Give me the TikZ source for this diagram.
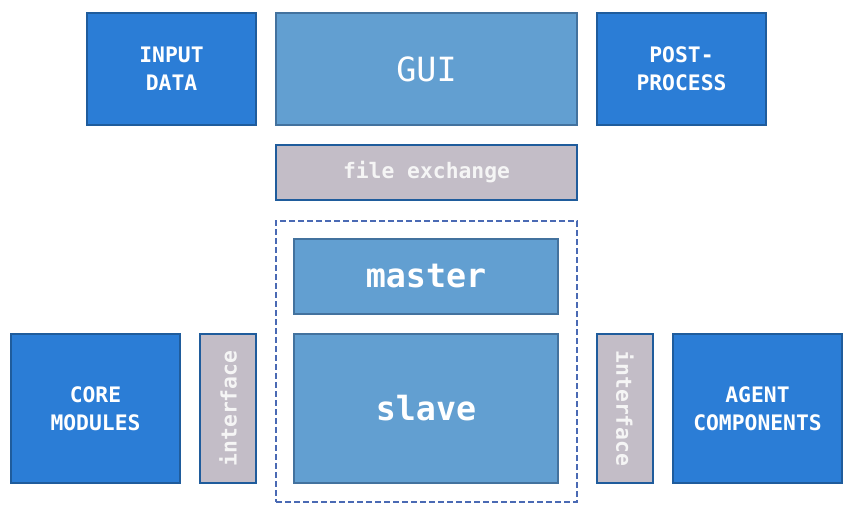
\documentclass[tikz,border=0pt]{standalone}
\usepackage{fontspec}
\setmonofont{DejaVu Sans Mono}
\definecolor{unitblue}{HTML}{2B7DD6}
\definecolor{unitedge}{HTML}{1F5C9C}
\definecolor{coreblue}{HTML}{629FD1}
\definecolor{coreedge}{HTML}{43729E}
\definecolor{linkgrey}{HTML}{C3BDC7}
\definecolor{frameblue}{HTML}{4A6AB4}
\tikzset{
  box/.style={draw, line width=1.8pt, inner sep=0pt, align=center, text=white},
  unit/.style={box, fill=unitblue, draw=unitedge, minimum width=126.75pt,
    font=\ttfamily\bfseries\fontsize{16}{21}\selectfont},
  core/.style={box, fill=coreblue, draw=coreedge,
    font=\ttfamily\bfseries\fontsize{25}{28}\selectfont},
  link/.style={box, fill=linkgrey, draw=unitedge, text=white!96!black,
    font=\ttfamily\bfseries\fontsize{16}{21}\selectfont}
}
\begin{document}
\begin{tikzpicture}[x=0.75pt,y=-0.75pt]
\useasboundingbox (0,0) rectangle (852,506);

% top row
\node[unit, minimum height=84pt] (input) at (171.5,69) {INPUT\\DATA};
\node[core, minimum width=225.75pt, minimum height=84pt, font=\ttfamily\fontsize{25}{28}\selectfont] (gui) at (426.5,69) {GUI};
\node[unit, minimum height=84pt] (post) at (681.5,69) {POST-\\PROCESS};

\node[link, minimum width=225.75pt, minimum height=41.25pt] (exchange) at (426.5,172.5) {file exchange};

% solver
\node[draw=frameblue, line width=2pt, dash pattern=on 4.5pt off 2.25pt,
  minimum width=225.75pt, minimum height=210.75pt] (solver) at (426.5,361.5) {};
\node[core, minimum width=198pt, minimum height=56.25pt] (master) at (426,276.5) {master};
\node[core, minimum width=198pt, minimum height=111.75pt] (slave) at (426,408.5) {slave};

% bottom row
\node[unit, minimum height=111.75pt] (modules) at (95.5,408.5) {CORE\\MODULES};
\node[link, minimum width=42pt, minimum height=111.75pt] (ifleft) at (228,408.5) {\rotatebox{90}{interface}};
\node[link, minimum width=42pt, minimum height=111.75pt] (ifright) at (625,408.5) {\rotatebox{-90}{interface}};
\node[unit, minimum height=111.75pt] (agents) at (757.5,408.5) {AGENT\\COMPONENTS};
\end{tikzpicture}
\end{document}
